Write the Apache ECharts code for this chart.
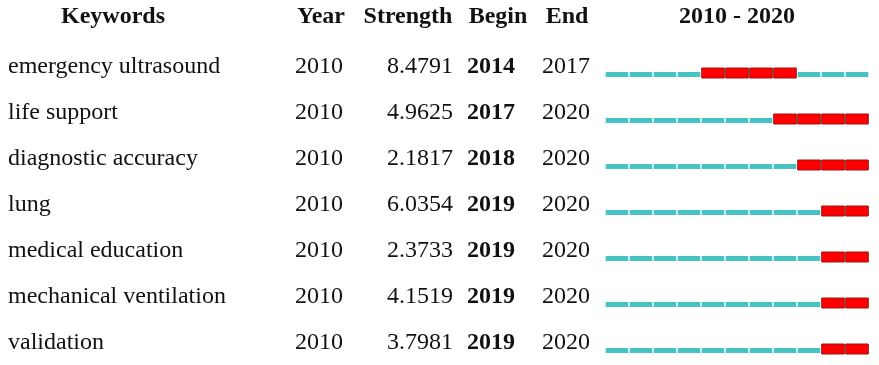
<!DOCTYPE html>
<html>
<head>
<meta charset="utf-8">
<script src="https://cdn.jsdelivr.net/npm/echarts@6/dist/echarts.min.js"></script>
<style>
  html, body { margin: 0; padding: 0; background: #ffffff; }
  #chart { width: 879px; height: 365px; }
</style>
</head>
<body>
<div id="chart"></div>
<script>
// ---- data ----
const keywords = ['emergency ultrasound', 'life support', 'diagnostic accuracy', 'lung', 'medical education', 'mechanical ventilation', 'validation'];
const firstYears = [2010, 2010, 2010, 2010, 2010, 2010, 2010];
const strengths = ['8.4791', '4.9625', '2.1817', '6.0354', '2.3733', '4.1519', '3.7981'];
const begins = [2014, 2017, 2018, 2019, 2019, 2019, 2019];
const ends = [2017, 2020, 2020, 2020, 2020, 2020, 2020];
const spanStart = 2010;
const spanEnd = 2020;
const headers = ['Keywords', 'Year', 'Strength', 'Begin', 'End', spanStart + ' - ' + spanEnd];

// ---- styles ----
const FONT = '"Liberation Serif", "Times New Roman", serif';
const TEAL = '#48c3c3';
const RED = '#ff0000';
const TEXT = '#111111';
const colX = { kw: 8, year: 319, strength: 453, begin: 491, end: 566 };
const headerX = [113, 321, 408, 498, 567, 737];

const rows = keywords.map((k, i) => [i, begins[i], ends[i]]);

const chart = echarts.init(document.getElementById('chart'));
chart.setOption({
  backgroundColor: '#ffffff',
  animation: false,
  grid: { left: 605, right: 10, top: 73, bottom: 16 },
  xAxis: { type: 'value', min: spanStart, max: spanEnd + 1, show: false },
  yAxis: { type: 'category', data: keywords, inverse: true, boundaryGap: false, show: false },
  graphic: headers.map((h, i) => ({
    type: 'text', x: headerX[i], y: 17,
    style: { text: h, font: 'bold 24px ' + FONT, fill: TEXT, align: 'center', verticalAlign: 'middle' }
  })),
  series: [
    {
      type: 'custom',
      clip: false,
      data: rows,
      renderItem: function (params, api) {
        const row = api.value(0);
        const b = api.value(1), e = api.value(2);
        const children = [];
        for (let y = spanStart; y <= spanEnd; y++) {
          const p0 = api.coord([y, row]);
          const p1 = api.coord([y + 1, row]);
          const burst = y >= b && y <= e;
          const w = p1[0] - p0[0] - 1.4;
          if (burst) {
            children.push({ type: 'rect', shape: { x: p0[0] + 0.7, y: p0[1] - 5, width: w, height: 10 },
              style: { fill: RED, stroke: '#9a1414', lineWidth: 1 } });
          } else {
            children.push({ type: 'rect', shape: { x: p0[0] + 0.7, y: p0[1] - 1, width: w, height: 5 },
              style: { fill: TEAL } });
          }
        }
        return { type: 'group', children: children };
      }
    },
    {
      type: 'custom',
      clip: false,
      data: rows,
      renderItem: function (params, api) {
        const i = params.dataIndex;
        const cy = api.coord([spanStart, api.value(0)])[1] - 6;
        const base = { fill: TEXT, verticalAlign: 'middle' };
        return {
          type: 'group',
          children: [
            { type: 'text', x: colX.kw, y: cy, style: Object.assign({ text: keywords[i], font: '24px ' + FONT, align: 'left' }, base) },
            { type: 'text', x: colX.year, y: cy, style: Object.assign({ text: String(firstYears[i]), font: '24px ' + FONT, align: 'center' }, base) },
            { type: 'text', x: colX.strength, y: cy, style: Object.assign({ text: strengths[i], font: '24px ' + FONT, align: 'right' }, base) },
            { type: 'text', x: colX.begin, y: cy, style: Object.assign({ text: String(begins[i]), font: 'bold 24px ' + FONT, align: 'center' }, base) },
            { type: 'text', x: colX.end, y: cy, style: Object.assign({ text: String(ends[i]), font: '24px ' + FONT, align: 'center' }, base) }
          ]
        };
      }
    }
  ]
});
</script>
</body>
</html>
